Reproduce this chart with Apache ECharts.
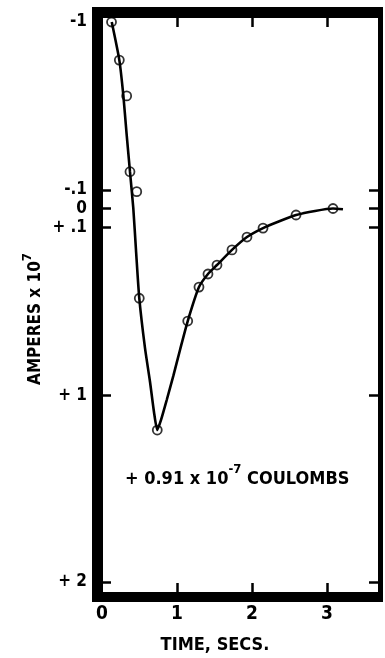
<!DOCTYPE html>
<html><head><meta charset="utf-8">
<script src="https://cdn.jsdelivr.net/npm/echarts@6/dist/echarts.min.js"></script>
<style>html,body{margin:0;padding:0;background:#fff}#c{width:385px;height:658px}</style>
</head><body><div id="c"></div>
<script>
// Smooth curve drawn through the measurements (time s, amperes x 1e7)
const curveTime = [0.13,0.231,0.284,0.327,0.373,0.417,0.453,0.497,0.573,0.64,0.693,0.737,0.787,0.863,0.951,1.04,1.143,1.293,1.413,1.533,1.733,1.933,2.147,2.373,2.587,2.84,3.08,3.213];
const curveAmps = [-1.0,-0.796,-0.609,-0.405,-0.198,-0.004,0.221,0.479,0.746,0.927,1.089,1.186,1.132,1.025,0.896,0.757,0.602,0.42,0.35,0.302,0.221,0.152,0.104,0.066,0.034,0.012,-0.001,0.003];
// Measured points (open circles)
const pointTime = [0.127,0.231,0.329,0.373,0.463,0.497,0.737,1.143,1.293,1.413,1.533,1.733,1.933,2.147,2.587,3.08];
const pointAmps = [-1.0,-0.796,-0.604,-0.198,-0.091,0.48,1.186,0.602,0.42,0.35,0.302,0.221,0.152,0.104,0.034,-0.001];
// Axis ticks
const xTickValues = [1,2,3];
const xLabelValues = [0,1,2,3];
const yTickValues = [-0.1,0,0.1,1,2];
const yLabelValues = [-1,-0.1,0,0.1,1,2];
const yLabelTexts = ['-1','-.1','0','+ .1','+ 1','+ 2'];

const FONT = '"Liberation Sans Narrow","DejaVu Sans Condensed","Arial Narrow",sans-serif';
const chart = echarts.init(document.getElementById('c'), null, {renderer:'canvas'});
const pair = (a,b)=>a.map((v,i)=>[v,b[i]]);
const tickStyle = {show:true, inside:true, length:9, lineStyle:{color:'#000', width:2.5}};
const noLine = {show:false, onZero:false};
chart.setOption({
  animation:false,
  backgroundColor:'#fff',
  grid:{left:102, right:7, top:22, bottom:76},
  xAxis:[
    {type:'value', min:0, max:3.68, position:'bottom', offset:10,
     axisLine:noLine, splitLine:{show:false},
     axisTick:Object.assign({customValues:xTickValues}, tickStyle),
     axisLabel:{customValues:xLabelValues, margin:13, color:'#000', fontFamily:FONT, fontWeight:'bold', fontSize:19}},
    {type:'value', min:0, max:3.68, position:'top', offset:4,
     axisLine:noLine, splitLine:{show:false},
     axisTick:Object.assign({customValues:xTickValues}, tickStyle),
     axisLabel:{show:false}}
  ],
  yAxis:[
    {type:'value', min:-1, max:2, inverse:true, position:'left',
     axisLine:noLine, splitLine:{show:false},
     axisTick:Object.assign({customValues:yTickValues}, tickStyle),
     axisLabel:{customValues:yLabelValues, margin:15, color:'#000', fontFamily:FONT, fontWeight:'bold', fontSize:17,
       formatter:v=>{const i=yLabelValues.findIndex(t=>Math.abs(t-v)<1e-9);return i>=0?yLabelTexts[i]:'';}}},
    {type:'value', min:-1, max:2, inverse:true, position:'right',
     axisLine:noLine, splitLine:{show:false},
     axisTick:Object.assign({customValues:yTickValues}, tickStyle),
     axisLabel:{show:false}}
  ],
  series:[
    {type:'line', data:pair(curveTime,curveAmps), smooth:0.2, showSymbol:false, symbol:'none',
     lineStyle:{color:'#000', width:2.6}, z:3},
    {type:'scatter', data:pair(pointTime,pointAmps), symbol:'circle', symbolSize:9,
     itemStyle:{color:'rgba(0,0,0,0)', borderColor:'#000', borderWidth:1.8}, z:4}
  ],
  graphic:[
    {type:'rect', z:100, shape:{x:92, y:7, width:291, height:11}, style:{fill:'#000'}},
    {type:'rect', z:100, shape:{x:92, y:592, width:291, height:10}, style:{fill:'#000'}},
    {type:'rect', z:100, shape:{x:92, y:7, width:11, height:595}, style:{fill:'#000'}},
    {type:'rect', z:100, shape:{x:378, y:7, width:5, height:595}, style:{fill:'#000'}},
    {type:'text', z:100, x:33, y:319, rotation:Math.PI/2,
     style:{text:'{a|AMPERES x 10}{s|7}', align:'center', verticalAlign:'middle',
       rich:{a:{fontFamily:FONT, fontWeight:'bold', fontSize:17, fill:'#000', verticalAlign:'bottom'},
             s:{fontFamily:FONT, fontWeight:'bold', fontSize:13, fill:'#000', verticalAlign:'top', padding:[0,0,10,0]}}}},
    {type:'text', z:100, x:125, y:476,
     style:{text:'{a|+ 0.91 x 10}{s|-7}{a| COULOMBS}', align:'left', verticalAlign:'middle',
       rich:{a:{fontFamily:FONT, fontWeight:'bold', fontSize:18, fill:'#000', verticalAlign:'bottom'},
             s:{fontFamily:FONT, fontWeight:'bold', fontSize:13, fill:'#000', verticalAlign:'top', padding:[0,0,12,0]}}}},
    {type:'text', z:100, x:215, y:645,
     style:{text:'TIME, SECS.', align:'center', verticalAlign:'middle', fontFamily:FONT, fontWeight:'bold', fontSize:18, fill:'#000'}}
  ]
});
</script></body></html>
